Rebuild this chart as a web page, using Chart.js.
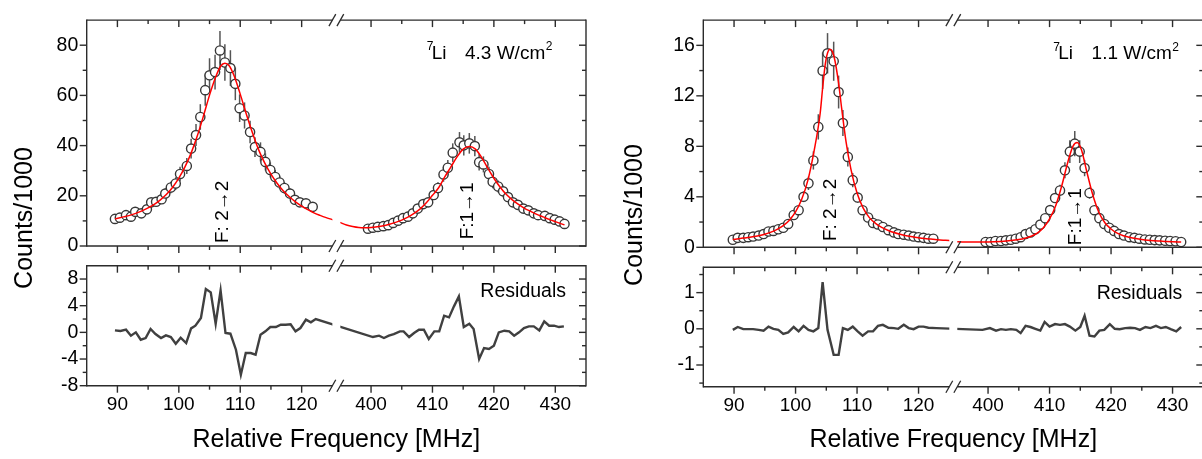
<!DOCTYPE html>
<html><head><meta charset="utf-8">
<script src="https://cdn.jsdelivr.net/npm/chart.js@4"></script>
<style>
html,body{margin:0;padding:0;background:#fff;}
#wrap{position:relative;width:1202px;height:459px;overflow:hidden;background:#fff;}
canvas{position:absolute;top:0;}
</style></head><body>
<div id="wrap">
<canvas id="lt" width="600" height="459" style="left:0;width:600px;height:459px"></canvas>
<canvas id="lb" width="600" height="459" style="left:0;width:600px;height:459px"></canvas>
<canvas id="rt" width="610" height="459" style="left:600px;width:610px;height:459px"></canvas>
<canvas id="rb" width="610" height="459" style="left:600px;width:610px;height:459px"></canvas>
</div>
<script>
// ---------------- tick labels ----------------
const xTickLabels = [90, 100, 110, 120, 400, 410, 420, 430];
const xMinorTicks = [95, 105, 115, 405, 415, 425];
const L_yTicks = [0, 20, 40, 60, 80];   const L_yMinor = [10, 30, 50, 70];
const L_rTicks = [-8, -4, 0, 4, 8];     const L_rMinor = [-6, -2, 2, 6];
const R_yTicks = [0, 4, 8, 12, 16];     const R_yMinor = [2, 6, 10, 14];
const R_rTicks = [-1, 0, 1];            const R_rMinor = [-1.5, -0.5, 0.5, 1.5];

// ---------------- left panel: 4.3 W/cm2 ----------------
const L_x1 = [89.6, 90.4, 91.4, 92.2, 92.9, 93.9, 94.8, 95.5, 96.3, 97.2, 97.8, 98.7, 99.5, 100.2, 101.3, 102.0, 102.8, 103.5, 104.3, 105.0, 105.9, 106.7, 107.5, 108.4, 109.2, 109.9, 110.7, 111.6, 112.4, 113.3, 114.1, 114.9, 115.7, 116.4, 117.2, 118.1, 118.9, 119.7, 120.7, 121.8];
const L_y1 = [10.8, 11.3, 12.3, 11.7, 13.6, 13.0, 14.6, 17.4, 17.6, 18.6, 20.9, 23.3, 24.9, 28.7, 31.9, 38.8, 44.2, 51.4, 62.1, 68.0, 69.3, 77.9, 73.1, 70.9, 64.6, 54.9, 52.0, 45.4, 39.4, 37.5, 33.5, 30.3, 27.5, 25.3, 23.1, 20.9, 18.4, 17.4, 17.0, 15.6];
const L_e1 = [1.1, 1.1, 1.2, 1.2, 1.4, 1.3, 1.5, 1.7, 1.8, 1.9, 2.1, 2.3, 2.5, 2.9, 3.2, 3.9, 4.4, 5.1, 6.2, 6.8, 6.9, 7.8, 7.3, 7.1, 6.5, 5.5, 5.2, 4.5, 3.9, 3.8, 3.4, 3.0, 2.8, 2.5, 2.3, 2.1, 1.8, 1.7, 1.7, 1.6];
const L_x2 = [399.5, 400.3, 401.1, 402.0, 402.8, 403.6, 404.4, 405.2, 406.0, 406.8, 407.6, 408.5, 409.3, 410.2, 410.9, 411.8, 412.5, 413.3, 414.4, 415.1, 416.0, 416.9, 417.6, 418.3, 419.2, 419.8, 420.7, 421.5, 422.3, 423.1, 423.9, 424.8, 425.6, 426.5, 427.2, 428.3, 429.1, 429.9, 430.7, 431.5];
const L_y2 = [6.9, 7.3, 7.6, 7.9, 8.3, 9.2, 10.1, 11.1, 11.7, 13.0, 14.9, 16.7, 17.4, 20.3, 23.1, 28.5, 31.2, 37.2, 41.3, 40.1, 40.9, 39.8, 33.4, 32.5, 28.7, 25.6, 23.7, 21.8, 19.5, 17.4, 16.4, 14.9, 14.2, 13.0, 12.3, 12.0, 11.1, 10.5, 9.8, 8.8];
const L_e2 = [0.7, 0.7, 0.8, 0.8, 0.8, 0.9, 1.0, 1.1, 1.2, 1.3, 1.5, 1.7, 1.7, 2.0, 2.3, 2.9, 3.1, 3.7, 4.1, 4.0, 4.1, 4.0, 3.3, 3.2, 2.9, 2.6, 2.4, 2.2, 2.0, 1.7, 1.6, 1.5, 1.4, 1.3, 1.2, 1.2, 1.1, 1.0, 1.0, 0.9];
const L_fitX = [89.6, 91, 92, 93, 94, 95, 96, 97, 98, 99, 100, 101, 102, 103, 104, 105, 106, 106.8, 107.5, 108.2, 109, 110, 111, 112, 113, 114, 115, 116, 117, 118, 119, 120, 121, 122, 123, 124, 125, 395, 396, 397, 398, 399, 400, 401, 402, 403, 404, 405, 406, 407, 408, 409, 410, 411, 412, 413, 414, 415, 416, 417, 418, 419, 420, 421, 422, 423, 424, 425, 426, 427, 428, 429, 430, 431.5];
const L_fitY = [10.8, 11.6, 12.2, 13.0, 14.0, 15.2, 16.6, 18.4, 20.6, 23.4, 27.0, 31.5, 37.0, 43.8, 51.7, 60.1, 67.3, 71.6, 72.8, 71.8, 67.8, 60.5, 52.5, 45.0, 38.3, 33.0, 28.6, 25.0, 22.0, 19.6, 17.6, 15.9, 14.5, 13.2, 12.2, 11.3, 10.5, 9.3, 8.4, 7.8, 7.4, 7.3, 7.4, 7.7, 8.1, 8.7, 9.4, 10.3, 11.5, 13.0, 14.8, 17.2, 20.2, 23.2, 27.5, 31.5, 35.5, 38.6, 39.6, 38.6, 35.3, 31.0, 27.0, 23.5, 20.6, 18.4, 16.6, 15.0, 13.8, 12.6, 11.6, 10.6, 9.7, 8.4];
const L_resX = [89.6, 90.5, 91.4, 92.2, 93.0, 93.8, 94.6, 95.4, 96.2, 97.1, 97.9, 98.7, 99.5, 100.3, 101.2, 102.0, 102.7, 103.6, 104.4, 105.2, 106.0, 106.8, 107.6, 108.4, 109.3, 110.1, 110.9, 111.7, 112.5, 113.3, 114.1, 114.9, 115.8, 116.6, 117.4, 118.2, 119.0, 119.8, 120.7, 121.5, 122.3, 400.3, 401.3, 402.1, 402.9, 403.7, 404.7, 405.3, 406.2, 407.0, 407.8, 408.6, 409.4, 410.3, 411.1, 411.9, 412.7, 413.5, 414.3, 415.1, 416.0, 416.7, 417.6, 418.4, 419.2, 420.0, 420.8, 421.7, 422.5, 423.3, 424.1, 424.9, 425.7, 426.5, 427.4, 428.2, 429.0, 429.8, 430.6, 431.4];
const L_resY = [0.3, 0.2, 0.4, -0.5, 0, -1.1, -0.85, 0.5, -0.25, -0.85, -0.45, -0.7, -1.7, -0.8, -1.6, 0.6, 1.0, 2.15, 6.5, 6.0, 1.3, 6.3, -0.1, -0.2, -2.6, -6.35, -3.1, -3.1, -3.35, -0.35, 0.15, 0.8, 0.8, 1.15, 1.15, 1.2, 0.15, 0.65, 1.9, 1.5, 2.0, -0.7, -0.5, -0.85, -0.5, -0.25, 0.15, 0.15, -0.7, -0.1, 0.4, 0.4, -1.0, 0.15, 0.15, 2.5, 2.25, 3.9, 5.4, 0.8, 1.3, 0.5, -4.0, -2.35, -2.5, -2.0, 0, 0.25, 0.15, -0.5, 0, 0.65, 0.9, 0.9, 0.3, 1.65, 1.0, 1.0, 0.8, 0.9];

// ---------------- right panel: 1.1 W/cm2 ----------------
const R_x1 = [89.8, 90.6, 91.5, 92.3, 93.1, 94.0, 94.8, 95.6, 96.4, 97.2, 98.0, 98.8, 99.7, 100.5, 101.3, 102.1, 102.9, 103.7, 104.4, 105.2, 106.2, 107.0, 107.7, 108.5, 109.3, 110.1, 110.9, 111.8, 112.6, 113.4, 114.2, 115.1, 116.0, 116.7, 117.6, 118.4, 119.2, 120.0, 120.8, 121.6, 122.4];
const R_y1 = [0.60, 0.75, 0.75, 0.80, 0.85, 0.93, 1.05, 1.25, 1.30, 1.43, 1.55, 1.85, 2.56, 2.94, 4.00, 5.07, 6.88, 9.54, 13.99, 15.37, 14.74, 12.30, 9.84, 7.16, 5.32, 3.94, 2.94, 2.36, 1.93, 1.81, 1.61, 1.36, 1.18, 1.05, 1.00, 0.93, 0.85, 0.80, 0.75, 0.68, 0.68];
const R_e1 = [0.1, 0.1, 0.1, 0.1, 0.1, 0.1, 0.1, 0.13, 0.13, 0.15, 0.16, 0.2, 0.27, 0.3, 0.42, 0.53, 0.72, 1.0, 1.45, 1.6, 1.55, 1.3, 1.03, 0.75, 0.56, 0.41, 0.3, 0.25, 0.2, 0.19, 0.17, 0.14, 0.12, 0.11, 0.1, 0.1, 0.1, 0.1, 0.1, 0.1, 0.1];
const R_x2 = [399.6, 400.4, 401.2, 402.1, 402.9, 403.7, 404.5, 405.3, 406.1, 406.9, 407.7, 408.5, 409.3, 410.1, 410.9, 411.7, 412.5, 413.3, 414.1, 414.9, 415.7, 416.5, 417.3, 418.1, 418.9, 419.7, 420.5, 421.3, 422.1, 423.0, 423.8, 424.6, 425.5, 426.3, 427.1, 427.9, 428.8, 429.6, 430.5, 431.4];
const R_y2 = [0.42, 0.42, 0.50, 0.50, 0.55, 0.60, 0.68, 0.80, 1.05, 1.18, 1.43, 1.80, 2.30, 2.95, 3.90, 4.50, 6.10, 7.58, 8.21, 7.58, 6.28, 4.30, 2.94, 2.31, 1.85, 1.55, 1.30, 1.05, 0.93, 0.80, 0.75, 0.68, 0.62, 0.60, 0.57, 0.55, 0.52, 0.50, 0.48, 0.42];
const R_e2 = [0.1, 0.1, 0.1, 0.1, 0.1, 0.1, 0.1, 0.1, 0.12, 0.13, 0.15, 0.19, 0.24, 0.3, 0.4, 0.46, 0.63, 0.9, 1.0, 0.9, 0.65, 0.45, 0.3, 0.24, 0.19, 0.16, 0.13, 0.11, 0.1, 0.1, 0.1, 0.1, 0.1, 0.1, 0.1, 0.1, 0.1, 0.1, 0.1, 0.1];
const R_fitX = [89.8, 91, 92, 93, 94, 95, 96, 97, 98, 99, 100, 101, 102, 103, 104, 104.4, 104.8, 105.2, 105.6, 106.0, 106.4, 107.0, 107.5, 108.2, 109, 110, 111, 112, 113, 114, 115, 116, 117, 118, 119, 120, 121, 122, 123, 124, 125, 395, 397, 399, 401, 403, 405, 406, 407, 408, 409, 410, 411, 412, 413, 413.8, 414.5, 415.2, 416, 417, 418, 419, 420, 421, 422, 423, 424, 425, 426, 427, 428, 429, 430, 431.4];
const R_fitY = [0.62, 0.70, 0.76, 0.83, 0.92, 1.04, 1.20, 1.42, 1.72, 2.15, 2.80, 3.80, 5.30, 7.60, 10.6, 12.6, 14.4, 15.4, 15.7, 15.5, 14.8, 13.0, 11.0, 8.4, 6.2, 4.3, 3.1, 2.35, 1.90, 1.58, 1.35, 1.17, 1.03, 0.92, 0.83, 0.76, 0.70, 0.65, 0.60, 0.56, 0.53, 0.44, 0.42, 0.42, 0.44, 0.50, 0.62, 0.72, 0.88, 1.12, 1.55, 2.25, 3.30, 4.90, 6.80, 8.0, 8.3, 7.7, 6.1, 4.2, 2.8, 1.95, 1.45, 1.12, 0.92, 0.80, 0.70, 0.62, 0.56, 0.52, 0.49, 0.46, 0.44, 0.42];
const R_resX = [89.8, 90.6, 91.5, 92.3, 93.1, 94.0, 94.8, 95.6, 96.4, 97.2, 98.0, 98.8, 99.7, 100.5, 101.3, 102.1, 102.9, 103.7, 104.4, 105.2, 106.2, 107.0, 107.7, 108.5, 109.3, 110.1, 110.9, 111.8, 112.6, 113.4, 114.2, 115.1, 116.0, 116.7, 117.6, 118.4, 119.2, 120.0, 120.8, 121.6, 122.9, 399.1, 400.3, 401.3, 402.1, 402.9, 403.7, 404.6, 405.3, 406.1, 406.9, 407.7, 408.5, 409.2, 410.0, 410.9, 411.7, 412.5, 413.3, 414.2, 415.0, 415.7, 416.5, 417.3, 418.1, 418.9, 419.8, 420.6, 421.4, 422.3, 423.1, 423.9, 424.7, 425.6, 426.4, 427.3, 428.1, 428.9, 429.7, 430.6, 431.4];
const R_resY = [-0.03, 0.05, -0.01, -0.01, -0.01, -0.03, -0.05, 0.06, 0, -0.03, -0.14, -0.1, 0.05, -0.07, 0.08, -0.03, -0.07, 0.02, 1.29, -0.03, -0.72, -0.72, 0.02, -0.03, 0.06, -0.07, -0.19, -0.07, -0.07, 0.08, 0.11, 0.03, 0.02, 0, 0.11, 0.02, -0.01, 0.06, 0.06, 0.03, 0.02, -0.03, 0.02, -0.05, -0.01, -0.03, -0.01, -0.03, -0.12, 0.08, 0.05, 0, -0.05, 0.19, 0.06, 0.13, 0.11, 0.13, 0.06, -0.05, 0.05, 0.36, -0.19, -0.21, -0.05, -0.03, 0.13, 0, -0.01, 0.02, 0.03, 0.02, -0.03, 0.05, 0.02, 0.08, 0.02, 0.05, -0.01, -0.07, 0.05];

// ---------------- broken axis helpers ----------------
const BRK_A = 125, BRK_B = 126.3;           // display positions of the break (125 | 395)
const M = v => v < 260 ? v : v - 395 + BRK_B; // real MHz -> display axis value
const U = v => Math.round(v > (BRK_A + BRK_B) / 2 ? v - BRK_B + 395 : v);
const pts = (xs, ys) => xs.map((x, i) => ({x: M(x), y: ys[i]}));

const FONT = '"Liberation Sans", Arial, Helvetica, sans-serif';
Chart.defaults.font.family = FONT;
Chart.defaults.color = '#000';
const H = 459;
const AX = '#2b2b2b';

function makeDecor(cfg) {
  return {
    id: 'decor',
    beforeDatasetsDraw(chart) {
      if (!cfg.errors) return;
      const {ctx} = chart, xs = chart.scales.x, ys = chart.scales.y;
      ctx.save();
      ctx.strokeStyle = '#555555'; ctx.lineWidth = 1.5;
      cfg.errors.forEach(s => {
        s.x.forEach((xv, i) => {
          const px = xs.getPixelForValue(M(xv));
          ctx.beginPath();
          ctx.moveTo(px, ys.getPixelForValue(s.y[i] - s.e[i]));
          ctx.lineTo(px, ys.getPixelForValue(s.y[i] + s.e[i]));
          ctx.stroke();
        });
      });
      ctx.restore();
    },
    afterDatasetsDraw(chart) {
      const {ctx, chartArea: a} = chart, xs = chart.scales.x, ys = chart.scales.y;
      const g1 = xs.getPixelForValue(BRK_A), g2 = xs.getPixelForValue(BRK_B);
      ctx.save();
      ctx.fillStyle = '#fff';
      ctx.fillRect(g1, a.top - 4, g2 - g1, a.bottom - a.top + 8);
      ctx.strokeStyle = AX; ctx.lineWidth = 1.4; ctx.lineCap = 'butt';
      const L = (x1, y1, x2, y2) => { ctx.beginPath(); ctx.moveTo(x1, y1); ctx.lineTo(x2, y2); ctx.stroke(); };
      L(a.left, a.top - 0.7, a.left, a.bottom + 0.7);
      L(a.right, a.top - 0.7, a.right, a.bottom + 0.7);
      L(a.left, a.top, g1, a.top); L(g2, a.top, a.right, a.top);
      L(a.left, a.bottom, g1, a.bottom); L(g2, a.bottom, a.right, a.bottom);
      const MAJ = 7, MIN = 4;
      const xt = (v, len) => { const p = xs.getPixelForValue(M(v)); L(p, a.top, p, a.top + len); L(p, a.bottom, p, a.bottom + len); };
      xTickLabels.forEach(v => xt(v, MAJ)); xMinorTicks.forEach(v => xt(v, MIN));
      const yt = (v, len) => { const p = ys.getPixelForValue(v); L(a.left - len, p, a.left, p); L(a.right - len, p, a.right, p); };
      cfg.yMajor.forEach(v => yt(v, MAJ)); cfg.yMinor.forEach(v => yt(v, MIN));
      // break marks
      ctx.lineWidth = 1.3;
      [g1, g2].forEach(gx => [a.top, a.bottom].forEach(y => L(gx - 3.4, y + 6, gx + 3.4, y - 6)));
      // texts
      ctx.fillStyle = '#000';
      (cfg.texts || []).forEach(t => {
        let px, py;
        if (t.dx !== undefined) { px = xs.getPixelForValue(M(t.dx)); py = ys.getPixelForValue(t.dy); }
        else { px = (t.fromRight ? a.right : 0) + t.px; py = (t.fromTop ? a.top : 0) + t.py; }
        ctx.save();
        ctx.translate(px, py);
        if (t.rot) ctx.rotate(t.rot);
        ctx.font = t.size + 'px ' + FONT;
        ctx.textAlign = t.align || 'left';
        ctx.textBaseline = t.baseline || 'alphabetic';
        ctx.fillText(t.text, 0, 0);
        ctx.restore();
      });
      if (cfg.label) {
        const {x0, yb, parts} = cfg.label;
        let x = a.right + x0;
        const y = a.top + yb;
        parts.forEach(p => {
          ctx.font = (p.sup ? 12 : 19) + 'px ' + FONT;
          ctx.textAlign = 'left'; ctx.textBaseline = 'alphabetic';
          if (p.at !== undefined) x = a.right + x0 + p.at;
          ctx.fillText(p.t, x, p.sup ? y - 8.5 : y);
          x += ctx.measureText(p.t).width + 0.5;
        });
      }
      ctx.restore();
    }
  };
}

function panelChart(id, area, canvasW, o) {
  const isRes = !!o.isRes;
  return new Chart(document.getElementById(id), {
    type: 'scatter',
    data: {datasets: o.datasets},
    options: {
      responsive: false, animation: false, devicePixelRatio: 1, events: [],
      layout: {autoPadding: false, padding: {left: 0, top: area.top, right: canvasW - area.right, bottom: isRes ? 0 : H - area.bottom}},
      plugins: {legend: {display: false}, tooltip: {enabled: false}},
      scales: {
        x: {
          type: 'linear', min: 85, max: BRK_B + 40, display: isRes,
          afterFit: s => { s.height = isRes ? H - area.bottom : 0; },
          afterBuildTicks: s => { s.ticks = xTickLabels.map(v => ({value: M(v)})); },
          grid: {display: false, drawTicks: false}, border: {display: false},
          ticks: {autoSkip: false, maxRotation: 0, padding: 7.6, font: {size: 19}, color: '#000', callback: v => String(U(v))},
          title: {display: true, text: 'Relative Frequency [MHz]', font: {size: 25}, color: '#000', padding: {top: 0, bottom: 4}}
        },
        y: {
          type: 'linear', min: o.ymin, max: o.ymax, position: 'left',
          afterFit: s => { s.width = area.left; },
          afterBuildTicks: s => { s.ticks = o.yTicks.map(v => ({value: v})); },
          grid: {display: false, drawTicks: false}, border: {display: false},
          ticks: {padding: 8.4, font: {size: 19.5}, color: '#000', callback: v => String(v)}
        }
      }
    },
    plugins: [makeDecor(o.decor)]
  });
}

const circleDS = (xs, ys) => ({
  data: pts(xs, ys), order: 1, showLine: false,
  pointRadius: 4.6, pointBorderWidth: 1.4, pointBorderColor: '#383838', pointBackgroundColor: '#ffffff'
});
const fitDS = (xs, ys) => ({
  data: pts(xs, ys), order: 0, showLine: true, pointRadius: 0, borderColor: '#ff0000', borderWidth: 1.5,
  cubicInterpolationMode: 'monotone', fill: false
});
const resDS = (xs, ys) => ({
  data: pts(xs, ys), showLine: true, pointRadius: 0, borderColor: '#404040', borderWidth: 2.4, tension: 0, fill: false
});

// ---- left top ----
panelChart('lt', {left: 86.7, right: 586, top: 8.3, bottom: 246}, 600, {
  ymin: 0, ymax: 90, yTicks: L_yTicks,
  datasets: [fitDS(L_fitX, L_fitY), circleDS(L_x1, L_y1), circleDS(L_x2, L_y2)],
  decor: {
    yMajor: L_yTicks, yMinor: L_yMinor,
    errors: [{x: L_x1, y: L_y1, e: L_e1}, {x: L_x2, y: L_y2, e: L_e2}],
    texts: [
      {text: 'Counts/1000', px: 25, py: 218, rot: -Math.PI / 2, size: 25, align: 'center', baseline: 'middle'},
      {text: 'F: 2\u21922', dx: 107.2, dy: 13.6, rot: -Math.PI / 2, size: 19, align: 'center', baseline: 'middle'},
      {text: 'F:1\u21921', dx: 415.7, dy: 14.0, rot: -Math.PI / 2, size: 19, align: 'center', baseline: 'middle'}
    ],
    label: {x0: -159.3, yb: 38.5, parts: [{t: '7', sup: true}, {t: 'Li', at: 5}, {t: '4.3 W/cm', at: 38.3}, {t: '2', sup: true}]}
  }
});
// ---- left residuals ----
panelChart('lb', {left: 86.7, right: 586, top: 265.7, bottom: 385.7}, 600, {
  isRes: true, ymin: -8, ymax: 10, yTicks: L_rTicks,
  datasets: [resDS(L_resX, L_resY)],
  decor: {
    yMajor: L_rTicks, yMinor: L_rMinor,
    texts: [{text: 'Residuals', px: -20, py: 26, fromRight: true, fromTop: true, size: 19.5, align: 'right', baseline: 'middle'}]
  }
});
// ---- right top ----
panelChart('rt', {left: 103.3, right: 603.3, top: 8.3, bottom: 247.3}, 610, {
  ymin: 0, ymax: 18, yTicks: R_yTicks,
  datasets: [fitDS(R_fitX, R_fitY), circleDS(R_x1, R_y1), circleDS(R_x2, R_y2)],
  decor: {
    yMajor: R_yTicks, yMinor: R_yMinor,
    errors: [{x: R_x1, y: R_y1, e: R_e1}, {x: R_x2, y: R_y2, e: R_e2}],
    texts: [
      {text: 'Counts/1000', px: 35, py: 215, rot: -Math.PI / 2, size: 25, align: 'center', baseline: 'middle'},
      {text: 'F: 2\u21922', dx: 105.8, dy: 2.96, rot: -Math.PI / 2, size: 19, align: 'center', baseline: 'middle'},
      {text: 'F:1\u21921', dx: 414.2, dy: 2.43, rot: -Math.PI / 2, size: 19, align: 'center', baseline: 'middle'}
    ],
    label: {x0: -150, yb: 39, parts: [{t: '7', sup: true}, {t: 'Li', at: 5}, {t: '1.1 W/cm', at: 38.3}, {t: '2', sup: true}]}
  }
});
// ---- right residuals ----
panelChart('rb', {left: 103.3, right: 603.3, top: 267.3, bottom: 386.7}, 610, {
  isRes: true, ymin: -1.6, ymax: 1.7, yTicks: R_rTicks,
  datasets: [resDS(R_resX, R_resY)],
  decor: {
    yMajor: R_rTicks, yMinor: R_rMinor,
    texts: [{text: 'Residuals', px: -21, py: 26.3, fromRight: true, fromTop: true, size: 19.5, align: 'right', baseline: 'middle'}]
  }
});
</script>
</body></html>
